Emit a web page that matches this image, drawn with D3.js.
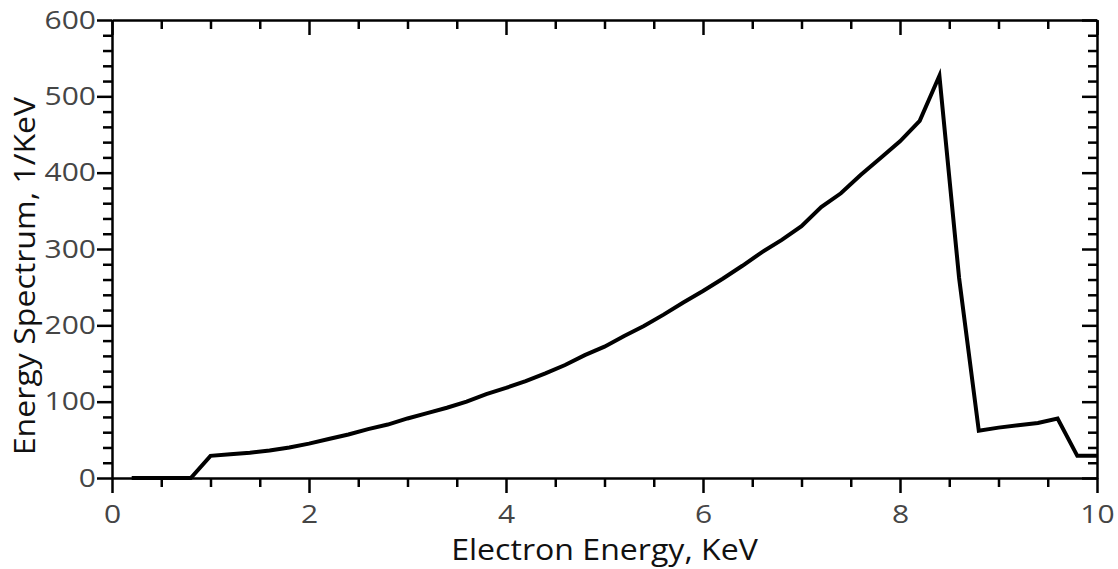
<!DOCTYPE html>
<html>
<head>
<meta charset="utf-8">
<script src="https://cdn.jsdelivr.net/npm/d3@7"></script>
<style>
  html, body { margin: 0; padding: 0; background: #fff; }
  svg { display: block; }
  .tick text { font-family: "Open Sans", sans-serif; }
</style>
</head>
<body>
<svg id="chart" width="1118" height="569"></svg>
<script>
// Electron energy grid (KeV) and spectrum values (1/KeV)
const energy = [0.2, 0.4, 0.6, 0.8, 1.0, 1.2, 1.4, 1.6, 1.8, 2.0,
                2.2, 2.4, 2.6, 2.8, 3.0, 3.2, 3.4, 3.6, 3.8, 4.0,
                4.2, 4.4, 4.6, 4.8, 5.0, 5.2, 5.4, 5.6, 5.8, 6.0,
                6.2, 6.4, 6.6, 6.8, 7.0, 7.2, 7.4, 7.6, 7.8, 8.0,
                8.2, 8.4, 8.6, 8.8, 9.0, 9.2, 9.4, 9.6, 9.8, 10.0];
const spectrum = [0, 0, 0, 0, 29, 31, 33, 36, 40, 45,
                  51, 57, 64, 70, 78, 85, 92, 100, 110, 118,
                  127, 137, 148, 161, 172, 186, 199, 214, 230, 245,
                  261, 278, 296, 312, 330, 355, 373, 397, 419, 441,
                  468, 527, 262, 62, 66, 69, 72, 78, 29, 29];

const xMajorTicks = [0, 2, 4, 6, 8, 10];
const xMinorTicks = d3.range(0, 10.001, 0.5);
const yMajorTicks = [0, 100, 200, 300, 400, 500, 600];
const yMinorTicks = d3.range(0, 600.001, 20);

const xTitle = "Electron Energy, KeV";
const yTitle = "Energy Spectrum, 1/KeV";

const svg = d3.select("#chart");
const margin = { left: 112, right: 21, top: 20, bottom: 91 };
const W = 1118, H = 569;
const x = d3.scaleLinear().domain([0, 10]).range([margin.left, W - margin.right]);
const y = d3.scaleLinear().domain([0, 600]).range([H - margin.bottom, margin.top]);

const axisColor = "#000";
const labelColor = "#454545";
const MAJOR = 15, MINOR = 9;
const labelStretch = 1.2;    // wide digit style for tick labels
const titleStretch = 1.07;

function styleAxis(g) {
  g.select(".domain").attr("stroke", axisColor).attr("stroke-width", 2.5);
  g.selectAll(".tick line").attr("stroke", axisColor).attr("stroke-width", 2.5);
  g.selectAll(".tick text")
    .attr("fill", labelColor)
    .style("font-size", "25px");
}

// bottom axis: outward ticks, labels on majors
const gx = svg.append("g").attr("transform", `translate(0,${y(0)})`)
  .call(d3.axisBottom(x).tickValues(xMinorTicks)
    .tickSize(MINOR).tickSizeOuter(0)
    .tickFormat(d => xMajorTicks.includes(d) ? d3.format("d")(d) : ""));
gx.selectAll(".tick").filter(d => xMajorTicks.includes(d)).select("line").attr("y2", MAJOR);
gx.selectAll(".tick text")
  .attr("x", 0).attr("y", 0).attr("dy", "0.71em")
  .attr("transform", `translate(0,27) scale(${labelStretch},1)`);
styleAxis(gx);

// top axis: inward ticks, no labels
const gt = svg.append("g").attr("transform", `translate(0,${y(600)})`)
  .call(d3.axisTop(x).tickValues(xMinorTicks).tickSize(-MINOR).tickSizeOuter(0).tickFormat(""));
gt.selectAll(".tick").filter(d => xMajorTicks.includes(d)).select("line").attr("y2", MAJOR);
styleAxis(gt);

// left axis: outward ticks, labels on majors
const gy = svg.append("g").attr("transform", `translate(${x(0)},0)`)
  .call(d3.axisLeft(y).tickValues(yMinorTicks)
    .tickSize(MINOR).tickSizeOuter(0)
    .tickFormat(d => yMajorTicks.includes(d) ? d3.format("d")(d) : ""));
gy.selectAll(".tick").filter(d => yMajorTicks.includes(d)).select("line").attr("x2", -MAJOR);
gy.selectAll(".tick text")
  .attr("x", 0)
  .attr("transform", `translate(-16,0) scale(${labelStretch},1)`);
styleAxis(gy);

// right axis: inward ticks, no labels
const gr = svg.append("g").attr("transform", `translate(${x(10)},0)`)
  .call(d3.axisRight(y).tickValues(yMinorTicks).tickSize(-MINOR).tickSizeOuter(0).tickFormat(""));
gr.selectAll(".tick").filter(d => yMajorTicks.includes(d)).select("line").attr("x2", -MAJOR);
styleAxis(gr);

// spectrum line
const data = energy.map((e, i) => ({ e, v: spectrum[i] }));
svg.append("path")
  .datum(data)
  .attr("fill", "none")
  .attr("stroke", "#000")
  .attr("stroke-width", 4)
  .attr("stroke-linejoin", "miter")
  .attr("d", d3.line().x(d => x(d.e)).y(d => y(d.v)));

// axis titles
svg.append("text")
  .attr("transform", `translate(${(x(0) + x(10)) / 2},560) scale(${titleStretch},1)`)
  .attr("text-anchor", "middle")
  .attr("font-family", "Open Sans, sans-serif")
  .attr("font-size", 30)
  .attr("fill", "#111")
  .text(xTitle);

svg.append("text")
  .attr("transform", `translate(35,276) rotate(-90) scale(${titleStretch},1)`)
  .attr("text-anchor", "middle")
  .attr("font-family", "Open Sans, sans-serif")
  .attr("font-size", 30)
  .attr("fill", "#111")
  .text(yTitle);
</script>
</body>
</html>
